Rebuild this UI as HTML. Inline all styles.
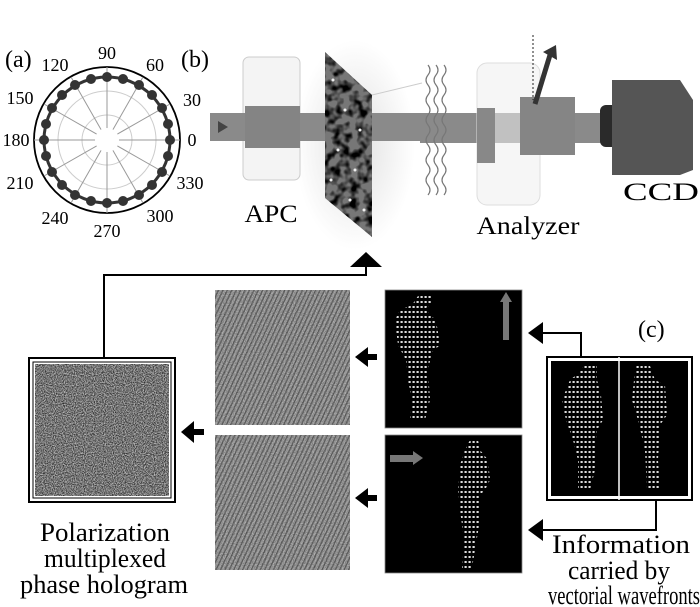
<!DOCTYPE html>
<html><head><meta charset="utf-8"><style>
html,body{margin:0;padding:0;background:#fff;}
svg{display:block;font-family:"Liberation Serif","Times New Roman",serif;}
text{font-family:"Liberation Serif","Times New Roman",serif;fill:#000;}
</style></head><body>
<svg width="700" height="607" viewBox="0 0 700 607" xmlns="http://www.w3.org/2000/svg" font-family="Liberation Serif, serif">
<defs>
<filter id="noise" x="0" y="0" width="100%" height="100%">
<feTurbulence type="fractalNoise" baseFrequency="0.9" numOctaves="2" seed="3"/>
<feColorMatrix type="matrix" values="0 0 0 0 0  0 0 0 0 0  0 0 0 0 0  0 0 0 -2.2 1.6"/>
</filter>
<filter id="blobs" x="0" y="0" width="100%" height="100%">
<feTurbulence type="fractalNoise" baseFrequency="0.12" numOctaves="2" seed="7"/>
<feColorMatrix type="matrix" values="0 0 0 0 0  0 0 0 0 0  0 0 0 0 0  0 0 0 -3 1.8"/>
</filter>
<clipPath id="slmclip"><polygon points="325,52 372,95 372,237 325,198"/></clipPath>
<pattern id="diag" width="4" height="6" patternUnits="userSpaceOnUse" patternTransform="rotate(25)">
<rect width="4" height="6" fill="#b0b0b0"/>
<rect width="1.4" height="6" fill="#707070"/>
</pattern>
<pattern id="dots" width="4" height="5" patternUnits="userSpaceOnUse">
<rect width="4" height="5" fill="#000"/>
<rect x="0.5" y="1" width="2.2" height="2" fill="#ddd"/>
</pattern>
<radialGradient id="glow" cx="0.5" cy="0.5" r="0.5">
<stop offset="0" stop-color="#e0e0e0"/><stop offset="1" stop-color="#fff"/>
</radialGradient>
</defs>

<g>
<circle cx="107" cy="140" r="73" fill="#fff" stroke="#000" stroke-width="1.8"/>
<circle cx="107" cy="140" r="49" fill="none" stroke="#ccc" stroke-width="1"/>
<circle cx="107" cy="140" r="25" fill="none" stroke="#ccc" stroke-width="1"/>
<g stroke="#999" stroke-width="1">
<line x1="34" y1="140" x2="180" y2="140"/><line x1="107" y1="67" x2="107" y2="213"/>
<line x1="44" y1="104" x2="170" y2="176"/><line x1="44" y1="176" x2="170" y2="104"/>
<line x1="71" y1="77" x2="143" y2="203"/><line x1="71" y1="203" x2="143" y2="77"/>
</g>
<circle cx="107" cy="140" r="12" fill="#fff"/>
<circle cx="107" cy="140" r="63" fill="none" stroke="#333" stroke-width="3"/>
<g fill="#333">
<circle cx="170" cy="140" r="5"/><circle cx="168" cy="156" r="5"/><circle cx="162" cy="172" r="5"/><circle cx="152" cy="185" r="5"/><circle cx="139" cy="195" r="5"/><circle cx="123" cy="201" r="5"/><circle cx="107" cy="203" r="5"/><circle cx="91" cy="201" r="5"/><circle cx="75" cy="195" r="5"/><circle cx="62" cy="185" r="5"/><circle cx="52" cy="172" r="5"/><circle cx="46" cy="156" r="5"/><circle cx="44" cy="140" r="5"/><circle cx="46" cy="124" r="5"/><circle cx="52" cy="108" r="5"/><circle cx="62" cy="95" r="5"/><circle cx="75" cy="85" r="5"/><circle cx="91" cy="79" r="5"/><circle cx="107" cy="77" r="5"/><circle cx="123" cy="79" r="5"/><circle cx="139" cy="85" r="5"/><circle cx="152" cy="95" r="5"/><circle cx="162" cy="108" r="5"/><circle cx="168" cy="124" r="5"/>
</g>
<g font-size="18" text-anchor="middle">
<text x="107" y="59">90</text><text x="55" y="71">120</text><text x="155" y="71">60</text>
<text x="20" y="104">150</text><text x="192" y="106">30</text>
<text x="16" y="146">180</text><text x="192" y="146">0</text>
<text x="20" y="189">210</text><text x="190" y="189">330</text>
<text x="55" y="224">240</text><text x="160" y="222">300</text><text x="107" y="237">270</text>
</g>
<text x="5" y="67" font-size="24">(a)</text>
<text x="181" y="67" font-size="24">(b)</text>
</g>

<ellipse cx="355" cy="145" rx="60" ry="105" fill="url(#glow)"/>
<rect x="243" y="57" width="57" height="123" rx="6" fill="#f4f4f4" stroke="#ccc"/>
<rect x="210" y="113" width="400" height="28" fill="#8a8a8a"/>
<rect x="245" y="106" width="55" height="42" fill="#848484"/>
<path d="M218 121 L228 127 L218 133 Z" fill="#444"/>
<polygon points="325,52 372,95 372,237 325,198" fill="#777"/>
<g clip-path="url(#slmclip)"><rect x="325" y="52" width="47" height="185" fill="#000" filter="url(#blobs)"/></g>
<g fill="#eee"><circle cx="333" cy="80" r="1.5"/><circle cx="345" cy="110" r="1.5"/><circle cx="338" cy="150" r="1.5"/><circle cx="355" cy="170" r="1.5"/><circle cx="360" cy="130" r="1.5"/><circle cx="350" cy="200" r="1.5"/><circle cx="331" cy="180" r="1.5"/><circle cx="364" cy="210" r="1.5"/></g>
<line x1="372" y1="95" x2="422" y2="83" stroke="#ccc"/>
<rect x="420" y="113" width="190" height="30" fill="#8a8a8a"/>
<g fill="none" stroke="#777" stroke-width="1.2">
<path d="M428 65 q4 5 0 10 q-4 5 0 10 q4 5 0 10 q-4 5 0 10 q4 5 0 10 q-4 5 0 10 q4 5 0 10 q-4 5 0 10 q4 5 0 10 q-4 5 0 10 q4 5 0 10 q-4 5 0 10 q4 5 0 10"/>
<path d="M436 65 q4 5 0 10 q-4 5 0 10 q4 5 0 10 q-4 5 0 10 q4 5 0 10 q-4 5 0 10 q4 5 0 10 q-4 5 0 10 q4 5 0 10 q-4 5 0 10 q4 5 0 10 q-4 5 0 10 q4 5 0 10"/>
<path d="M444 65 q4 5 0 10 q-4 5 0 10 q4 5 0 10 q-4 5 0 10 q4 5 0 10 q-4 5 0 10 q4 5 0 10 q-4 5 0 10 q4 5 0 10 q-4 5 0 10 q4 5 0 10 q-4 5 0 10 q4 5 0 10"/>
</g>
<rect x="477" y="63" width="63" height="142" rx="10" fill="#eee" fill-opacity="0.55" stroke="#ddd"/>
<rect x="477" y="108" width="18" height="55" fill="#888"/>
<rect x="520" y="97" width="55" height="58" fill="#858585"/>
<line x1="533" y1="35" x2="533" y2="100" stroke="#222" stroke-dasharray="2,2"/>
<line x1="535" y1="104" x2="550" y2="55" stroke="#333" stroke-width="5"/>
<path d="M543 52 L556 45 L557 60 Z" fill="#333"/>
<rect x="600" y="105" width="22" height="42" rx="6" fill="#2a2a2a"/>
<path d="M612 80 L680 80 L693 100 L693 170 L680 175 L612 175 Z" fill="#555"/>
<text x="271" y="222" font-size="25" text-anchor="middle" textLength="53" lengthAdjust="spacingAndGlyphs">APC</text>
<text x="528" y="234" font-size="25" text-anchor="middle" textLength="103" lengthAdjust="spacingAndGlyphs">Analyzer</text>
<text x="661" y="200" font-size="25" text-anchor="middle" textLength="76" lengthAdjust="spacingAndGlyphs">CCD</text>

<g fill="none" stroke="#000" stroke-width="2">
<polyline points="104,358 104,275 366,275 366,262"/>
<polyline points="581,357 581,333 540,333"/>
<polyline points="656,500 656,530 540,530"/>
</g>
<path d="M350 267 L366 252 L382 267 Z" fill="#000"/>
<path d="M528 333 L543 322 L543 344 Z" fill="#000"/>
<path d="M528 530 L543 519 L543 541 Z" fill="#000"/>
<g fill="#000">
<path d="M355 357 L368 347 L368 354 L377 354 L377 360 L368 360 L368 367 Z"/>
<path d="M355 498 L368 488 L368 495 L377 495 L377 501 L368 501 L368 508 Z"/>
<path d="M181 432 L194 421 L194 429 L204 429 L204 435 L194 435 L194 443 Z"/>
</g>

<rect x="29" y="358" width="146" height="144" fill="#fff" stroke="#000" stroke-width="2"/>
<rect x="33" y="362" width="138" height="136" fill="none" stroke="#000" stroke-width="1"/>
<rect x="35" y="364" width="134" height="132" fill="#bbb"/>
<rect x="35" y="364" width="134" height="132" fill="#000" filter="url(#noise)" opacity="0.75"/>

<rect x="215" y="290" width="135" height="135" fill="url(#diag)"/>
<rect x="215" y="290" width="135" height="135" fill="#000" filter="url(#noise)" opacity="0.3"/>
<rect x="215" y="435" width="135" height="135" fill="url(#diag)"/>
<rect x="215" y="435" width="135" height="135" fill="#000" filter="url(#noise)" opacity="0.3"/>

<rect x="385" y="290" width="137" height="138" fill="#000" stroke="#888" stroke-width="0.8"/>
<polygon points="418,296 432,296 432,304 426,308 430,315 436,320 440,345 432,352 428,370 430,400 425,420 410,420 412,400 408,380 406,360 398,345 395,320 400,310 412,305" fill="url(#dots)"/>
<rect x="503" y="300" width="6" height="40" fill="#777"/><path d="M500 302 L506 292 L512 302 Z" fill="#777"/>
<rect x="385" y="435" width="137" height="138" fill="#000" stroke="#888" stroke-width="0.8"/>
<polygon points="470,440 478,440 480,450 488,460 490,480 485,490 480,495 480,520 475,550 472,568 462,568 464,540 460,510 458,490 460,465 465,450" fill="url(#dots)"/>
<rect x="390" y="455" width="25" height="7" fill="#777"/><path d="M413 451 L423 458 L413 465 Z" fill="#777"/>

<rect x="547" y="357" width="145" height="143" fill="#fff" stroke="#000" stroke-width="2"/>
<rect x="551" y="361" width="137" height="135" fill="#000"/>
<line x1="619" y1="357" x2="619" y2="500" stroke="#fff" stroke-width="1.5"/>
<polygon points="585,364 597,364 597,380 601,395 603,420 597,430 595,470 590,490 578,490 578,460 573,440 566,420 562,400 570,380 580,372" fill="url(#dots)"/>
<polygon points="636,364 650,366 655,380 665,385 667,415 660,425 658,460 660,490 647,490 645,450 638,420 632,400 634,380" fill="url(#dots)"/>
<text x="638" y="337" font-size="24">(c)</text>

<g font-size="26" text-anchor="middle">
<text x="105" y="541" textLength="130" lengthAdjust="spacingAndGlyphs">Polarization</text>
<text x="105" y="567" textLength="122" lengthAdjust="spacingAndGlyphs">multiplexed</text>
<text x="104" y="593" textLength="168" lengthAdjust="spacingAndGlyphs">phase hologram</text>
<text x="621" y="553" textLength="138" lengthAdjust="spacingAndGlyphs">Information</text>
<text x="619" y="579" textLength="102" lengthAdjust="spacingAndGlyphs">carried by</text>
<text x="624" y="604" textLength="152" lengthAdjust="spacingAndGlyphs">vectorial wavefronts</text>
</g>
</svg>
</body></html>
